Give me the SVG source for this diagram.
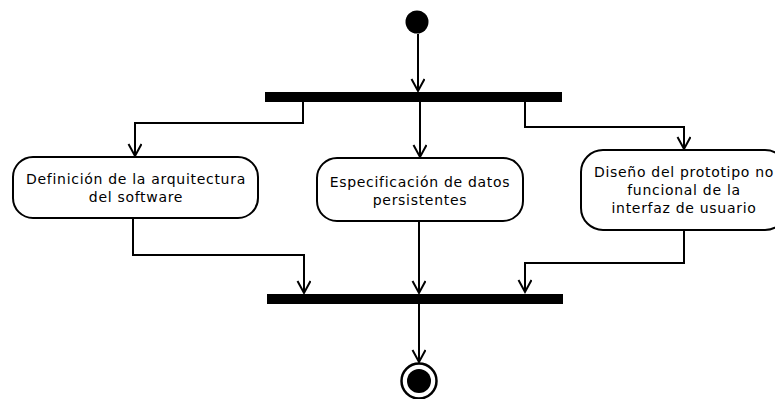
<svg xmlns="http://www.w3.org/2000/svg" width="775" height="399" viewBox="0 0 775 399">
<style>
.node rect{fill:#fff;stroke:#000;stroke-width:2}
.node text{font-family:"DejaVu Sans",sans-serif;font-size:14px;letter-spacing:0.7px;fill:#000;text-anchor:middle}
.conn path{fill:none;stroke:#000;stroke-width:2;marker-end:url(#a)}
.bar{fill:#000}
</style>
<defs>
<marker id="a" markerUnits="userSpaceOnUse" markerWidth="16" markerHeight="16" viewBox="0 0 16 16" refX="13" refY="7" orient="auto">
<path d="M1,0.5 L13,7 L1,13.5" fill="none" stroke="#000" stroke-width="2"/>
</marker>
</defs>
<rect width="775" height="399" fill="#fff"/>
<g id="start"><circle cx="417" cy="22" r="11.5" fill="#000"/></g>
<g id="fork"><rect class="bar" x="265" y="92" width="297" height="10"/></g>
<g id="join"><rect class="bar" x="267" y="294" width="296" height="10"/></g>
<g id="end"><circle cx="419" cy="381" r="17.5" fill="#fff" stroke="#000" stroke-width="2.5"/><circle cx="419" cy="381" r="12" fill="#000"/></g>
<g id="n1" class="node"><rect x="13" y="157" width="245" height="61" rx="20"/><text x="136" y="184">Definición de la arquitectura</text><text x="136" y="202">del software</text></g>
<g id="n2" class="node"><rect x="317" y="158" width="206" height="63" rx="20"/><text x="420" y="187">Especificación de datos</text><text x="420" y="205">persistentes</text></g>
<g id="n3" class="node"><rect x="581" y="150" width="206" height="80" rx="22"/><text x="684" y="177">Diseño del prototipo no</text><text x="684" y="195">funcional de la</text><text x="684" y="213">interfaz de usuario</text></g>
<g id="connectors" class="conn">
<path d="M418 34 V91"/>
<path d="M303 102 V123 H135 V156"/>
<path d="M420 102 V157"/>
<path d="M525 102 V127 H684 V149"/>
<path d="M133 218 V255 H304 V293"/>
<path d="M419 221 V293"/>
<path d="M684 230 V263 H525 V292"/>
<path d="M419 304 V362"/>
</g>
</svg>
